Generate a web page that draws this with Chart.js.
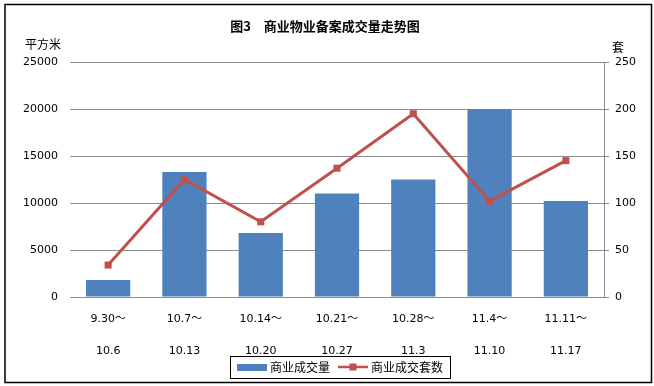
<!DOCTYPE html>
<html>
<head>
<meta charset="utf-8">
<script src="https://cdn.jsdelivr.net/npm/chart.js@4.4.1/dist/chart.umd.min.js"></script>
<style>
  body { margin: 0; background: #fff; }
  #wrap { width: 654px; height: 386px; }
</style>
</head>
<body>
<div id="wrap"><canvas id="chart" width="654" height="386"></canvas></div>
<script>
// 数据
const weeks = [
  ['9.30～', '10.6'],
  ['10.7～', '10.13'],
  ['10.14～', '10.20'],
  ['10.21～', '10.27'],
  ['10.28～', '11.3'],
  ['11.4～', '11.10'],
  ['11.11～', '11.17']
];
const areaSold = [1800, 13300, 6800, 11000, 12500, 20000, 10200];   // 平方米
const unitsSold = [34, 125, 80, 137, 195, 102, 145];               // 套
const areaTicks = [0, 5000, 10000, 15000, 20000, 25000];
const unitTicks = [0, 50, 100, 150, 200, 250];

const numFont = '"DejaVu Sans", "Noto Sans CJK SC", sans-serif';
const cjkFont = '"Noto Sans CJK SC", "DejaVu Sans", sans-serif';
const blue = '#4F81BD';
const red = '#C0504D';
const gridGray = '#8C8C8C';

// 边框、标题、单位、图例
const decorations = {
  id: 'decorations',
  afterDraw(chart) {
    const ctx = chart.ctx;
    ctx.save();
    ctx.strokeStyle = '#000';
    ctx.lineWidth = 1.5;
    ctx.strokeRect(5, 4.5, 646.5, 378);

    ctx.fillStyle = '#000';
    ctx.textBaseline = 'middle';
    ctx.font = 'bold 13px ' + cjkFont;
    ctx.textAlign = 'center';
    ctx.fillText('图3　商业物业备案成交量走势图', 325, 26);

    ctx.font = '12px ' + cjkFont;
    ctx.textAlign = 'left';
    ctx.fillText('平方米', 25, 44);
    ctx.fillText('套', 612, 47);

    // 图例：柱形在前，折线在后
    const bar = chart.data.datasets.find(d => d.type === 'bar');
    const line = chart.data.datasets.find(d => d.type === 'line');
    const swatch = 30, gap = 3, spacing = 8;
    const w0 = ctx.measureText(bar.label).width;
    const w1 = ctx.measureText(line.label).width;
    const total = 2 * (swatch + gap) + w0 + w1 + spacing + 14;
    let x = Math.round(340 - total / 2);
    const y = 367;
    ctx.fillStyle = '#fff';
    ctx.fillRect(x, 356, Math.round(total), 22);
    ctx.lineWidth = 1;
    ctx.strokeStyle = '#000';
    ctx.strokeRect(x + 0.5, 356.5, Math.round(total), 22);
    x += 7;
    ctx.fillStyle = bar.backgroundColor;
    ctx.fillRect(x, y - 3, swatch, 7);
    x += swatch + gap;
    ctx.fillStyle = '#000';
    ctx.fillText(bar.label, x, y);
    x += w0 + spacing;
    ctx.strokeStyle = line.borderColor;
    ctx.lineWidth = 2.5;
    ctx.beginPath();
    ctx.moveTo(x, y);
    ctx.lineTo(x + swatch, y);
    ctx.stroke();
    ctx.fillStyle = line.borderColor;
    ctx.fillRect(x + swatch / 2 - 3.5, y - 3.5, 7, 7);
    x += swatch + gap;
    ctx.fillStyle = '#000';
    ctx.fillText(line.label, x, y);
    ctx.restore();
  }
};

new Chart(document.getElementById('chart'), {
  data: {
    labels: weeks,
    datasets: [
      {
        type: 'line',
        label: '商业成交套数',
        data: unitsSold,
        yAxisID: 'y1',
        borderColor: red,
        backgroundColor: red,
        borderWidth: 3,
        pointStyle: 'rect',
        pointRadius: 5,
        pointBorderWidth: 0,
        order: 0
      },
      {
        type: 'bar',
        label: '商业成交量',
        data: areaSold,
        yAxisID: 'y',
        backgroundColor: blue,
        categoryPercentage: 1,
        barPercentage: 0.58,
        order: 1
      }
    ]
  },
  options: {
    responsive: false,
    devicePixelRatio: 1,
    animation: false,
    layout: { padding: { top: 62, left: 0, right: 0, bottom: 0 } },
    plugins: {
      legend: { display: false },
      tooltip: { enabled: false }
    },
    scales: {
      x: {
        grid: { display: false },
        border: { display: false },
        ticks: {
          color: '#000',
          padding: -2,
          maxRotation: 0,
          font: { family: numFont, size: 11, lineHeight: '32px' }
        },
        afterFit(s) { s.height = 89; }
      },
      y: {
        position: 'left',
        min: 0,
        max: 25000,
        afterBuildTicks(s) { s.ticks = areaTicks.map(v => ({ value: v })); },
        grid: { color: gridGray, lineWidth: 1, drawTicks: false },
        border: { display: false },
        ticks: {
          color: '#000',
          padding: 12,
          callback: v => String(v),
          font: { family: numFont, size: 11 }
        },
        afterFit(s) { s.width = 70; }
      },
      y1: {
        position: 'right',
        min: 0,
        max: 250,
        afterBuildTicks(s) { s.ticks = unitTicks.map(v => ({ value: v })); },
        grid: { drawOnChartArea: false, color: gridGray, tickLength: 5 },
        border: { display: true, color: gridGray },
        ticks: {
          color: '#000',
          padding: 6,
          callback: v => String(v),
          font: { family: numFont, size: 11 }
        },
        afterFit(s) { s.width = 50; }
      }
    }
  },
  plugins: [decorations]
});
</script>
</body>
</html>
